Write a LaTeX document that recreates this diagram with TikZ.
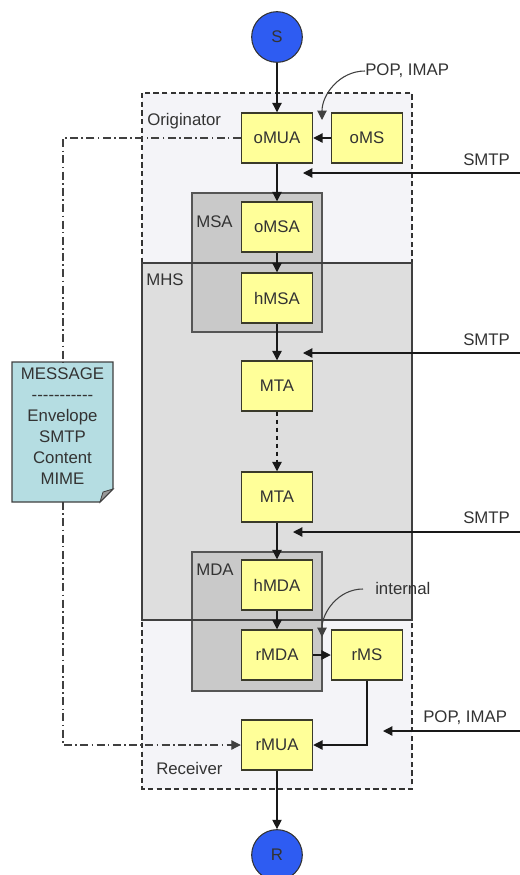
\documentclass[tikz,border=0pt]{standalone}
\usepackage{fontspec}
\setmainfont{Liberation Sans}
\usetikzlibrary{arrows.meta,calc}
\definecolor{boxyellow}{HTML}{FFFF99}
\definecolor{boxline}{HTML}{3A3A2A}
\definecolor{origfill}{HTML}{F4F4F8}
\definecolor{mhsfill}{HTML}{DEDEDE}
\definecolor{grpfill}{HTML}{C9C9C9}
\definecolor{grpline}{HTML}{555555}
\definecolor{circblue}{HTML}{2E5CF2}
\definecolor{notefill}{HTML}{B5DDE2}
\definecolor{txt}{HTML}{333333}
\tikzset{
  box/.style={draw=boxline, fill=boxyellow, line width=1.1pt, minimum width=53.25pt, minimum height=37.5pt, inner sep=0pt, text=txt},
  endpt/.style={circle, draw=black!80, fill=circblue, line width=0.8pt, minimum size=38pt, inner sep=0pt, text=txt},
  arr/.style={draw=black!90, line width=0.9pt, -{Triangle[length=7pt,width=7pt]}},
  lbl/.style={text=txt, inner sep=0pt},
  dashdot/.style={draw=black!75, line width=0.8pt, dash pattern=on 6pt off 2.5pt on 1.2pt off 2.5pt},
}
\begin{document}
\begin{tikzpicture}[x=0.75pt,y=-0.75pt, font=\fontsize{12.6}{15.75}\selectfont]
\useasboundingbox (0,0) rectangle (520,875);
% group areas
\fill[origfill] (142,93) rectangle (412,789);
\draw[black!80, line width=0.9pt, dash pattern=on 4pt off 2.5pt] (142,93) rectangle (412,789);
\fill[mhsfill] (142,263) rectangle (412,620);
\draw[grpline, fill=grpfill, line width=1pt] (192,193) rectangle (322,332);
\draw[grpline, fill=grpfill, line width=1pt] (192,552) rectangle (322,691);
\draw[black!75, line width=1pt] (142,263) rectangle (412,620);
% group labels
\node[lbl, anchor=west] (lOrig) at (147,121) {Originator};
\node[lbl, anchor=west] (lMSA) at (196,222) {MSA};
\node[lbl, anchor=west] (lMHS) at (146,280) {MHS};
\node[lbl, anchor=west] (lMDA) at (196,570) {MDA};
\node[lbl, anchor=west] (lRecv) at (156,768) {Receiver};
% nodes
\node[endpt] (S) at (277,37) {S};
\node[box] (oMUA) at (277,138) {oMUA};
\node[box] (oMS) at (367,138) {oMS};
\node[box] (oMSA) at (277,227) {oMSA};
\node[box] (hMSA) at (277,298) {hMSA};
\node[box] (MTAa) at (277,386) {MTA};
\node[box] (MTAb) at (277,497) {MTA};
\node[box] (hMDA) at (277,585) {hMDA};
\node[box] (rMDA) at (277,655) {rMDA};
\node[box] (rMS) at (367,655) {rMS};
\node[box] (rMUA) at (277,745) {rMUA};
\node[endpt] (R) at (277,855) {R};
% flow connectors
\draw[arr] (S) -- (oMUA);
\draw[arr] (oMS) -- (oMUA);
\draw[arr] (oMUA) -- (oMSA);
\draw[arr] (oMSA) -- (hMSA);
\draw[arr] (hMSA) -- (MTAa);
\draw[arr, dashed] (MTAa) -- (MTAb);
\draw[arr] (MTAb) -- (hMDA);
\draw[arr] (hMDA) -- (rMDA);
\draw[arr] (rMDA) -- (rMS);
\draw[arr] (rMS.south) |- (rMUA.east);
\draw[arr] (rMUA) -- (R);
% protocol labels and arrows
\node[lbl, anchor=west] (pop1) at (365,71) {POP, IMAP};
\coordinate (pop1end) at (322,120);
\draw[arr, line width=0.8pt, black!75] (pop1.west) to[out=180,in=90] (pop1end);
\node[lbl, anchor=west] (smtp1) at (463,160) {SMTP};
\coordinate (s1a) at (520,173); \coordinate (s1b) at (303,173);
\draw[arr] (s1a) -- (s1b);
\node[lbl, anchor=west] (smtp2) at (463,340) {SMTP};
\coordinate (s2a) at (520,353); \coordinate (s2b) at (303,353);
\draw[arr] (s2a) -- (s2b);
\node[lbl, anchor=west] (smtp3) at (463,518) {SMTP};
\coordinate (s3a) at (520,532); \coordinate (s3b) at (293,532);
\draw[arr] (s3a) -- (s3b);
\node[lbl, anchor=west] (intl) at (375,588) {internal};
\coordinate (intlend) at (322,637);
\draw[arr, line width=0.8pt, black!75] ($(intl.west)+(-12,1)$) to[out=180,in=90] (intlend);
\node[lbl, anchor=west] (pop2) at (423,718) {POP, IMAP};
\coordinate (p2a) at (520,731); \coordinate (p2b) at (383,731);
\draw[arr] (p2a) -- (p2b);
% note
\fill[notefill] (12,362) -- (113,362) -- (113,489) -- (100,502) -- (12,502) -- cycle;
\node[text=txt, align=center, inner sep=0pt] (note) at (62.5,426) {MESSAGE\\-{}-{}-{}-{}-{}-{}-{}-{}-{}-{}-\\Envelope\\SMTP\\Content\\MIME};
\draw[black!75, line width=1pt] (12,362) -- (113,362) -- (113,489) -- (100,502) -- (12,502) -- cycle;
\draw[black!75, fill=black!40, line width=0.6pt] (113,489) -- (103,492) -- (100,502) -- cycle;
% message path
\coordinate (mtop) at (63,362);
\coordinate (mbot) at (63,502);
\draw[dashdot] (oMUA.west) -| (mtop);
\draw[dashdot, -{Triangle[length=7pt,width=7pt]}] (mbot) |- (rMUA.west);
\end{tikzpicture}
\end{document}
